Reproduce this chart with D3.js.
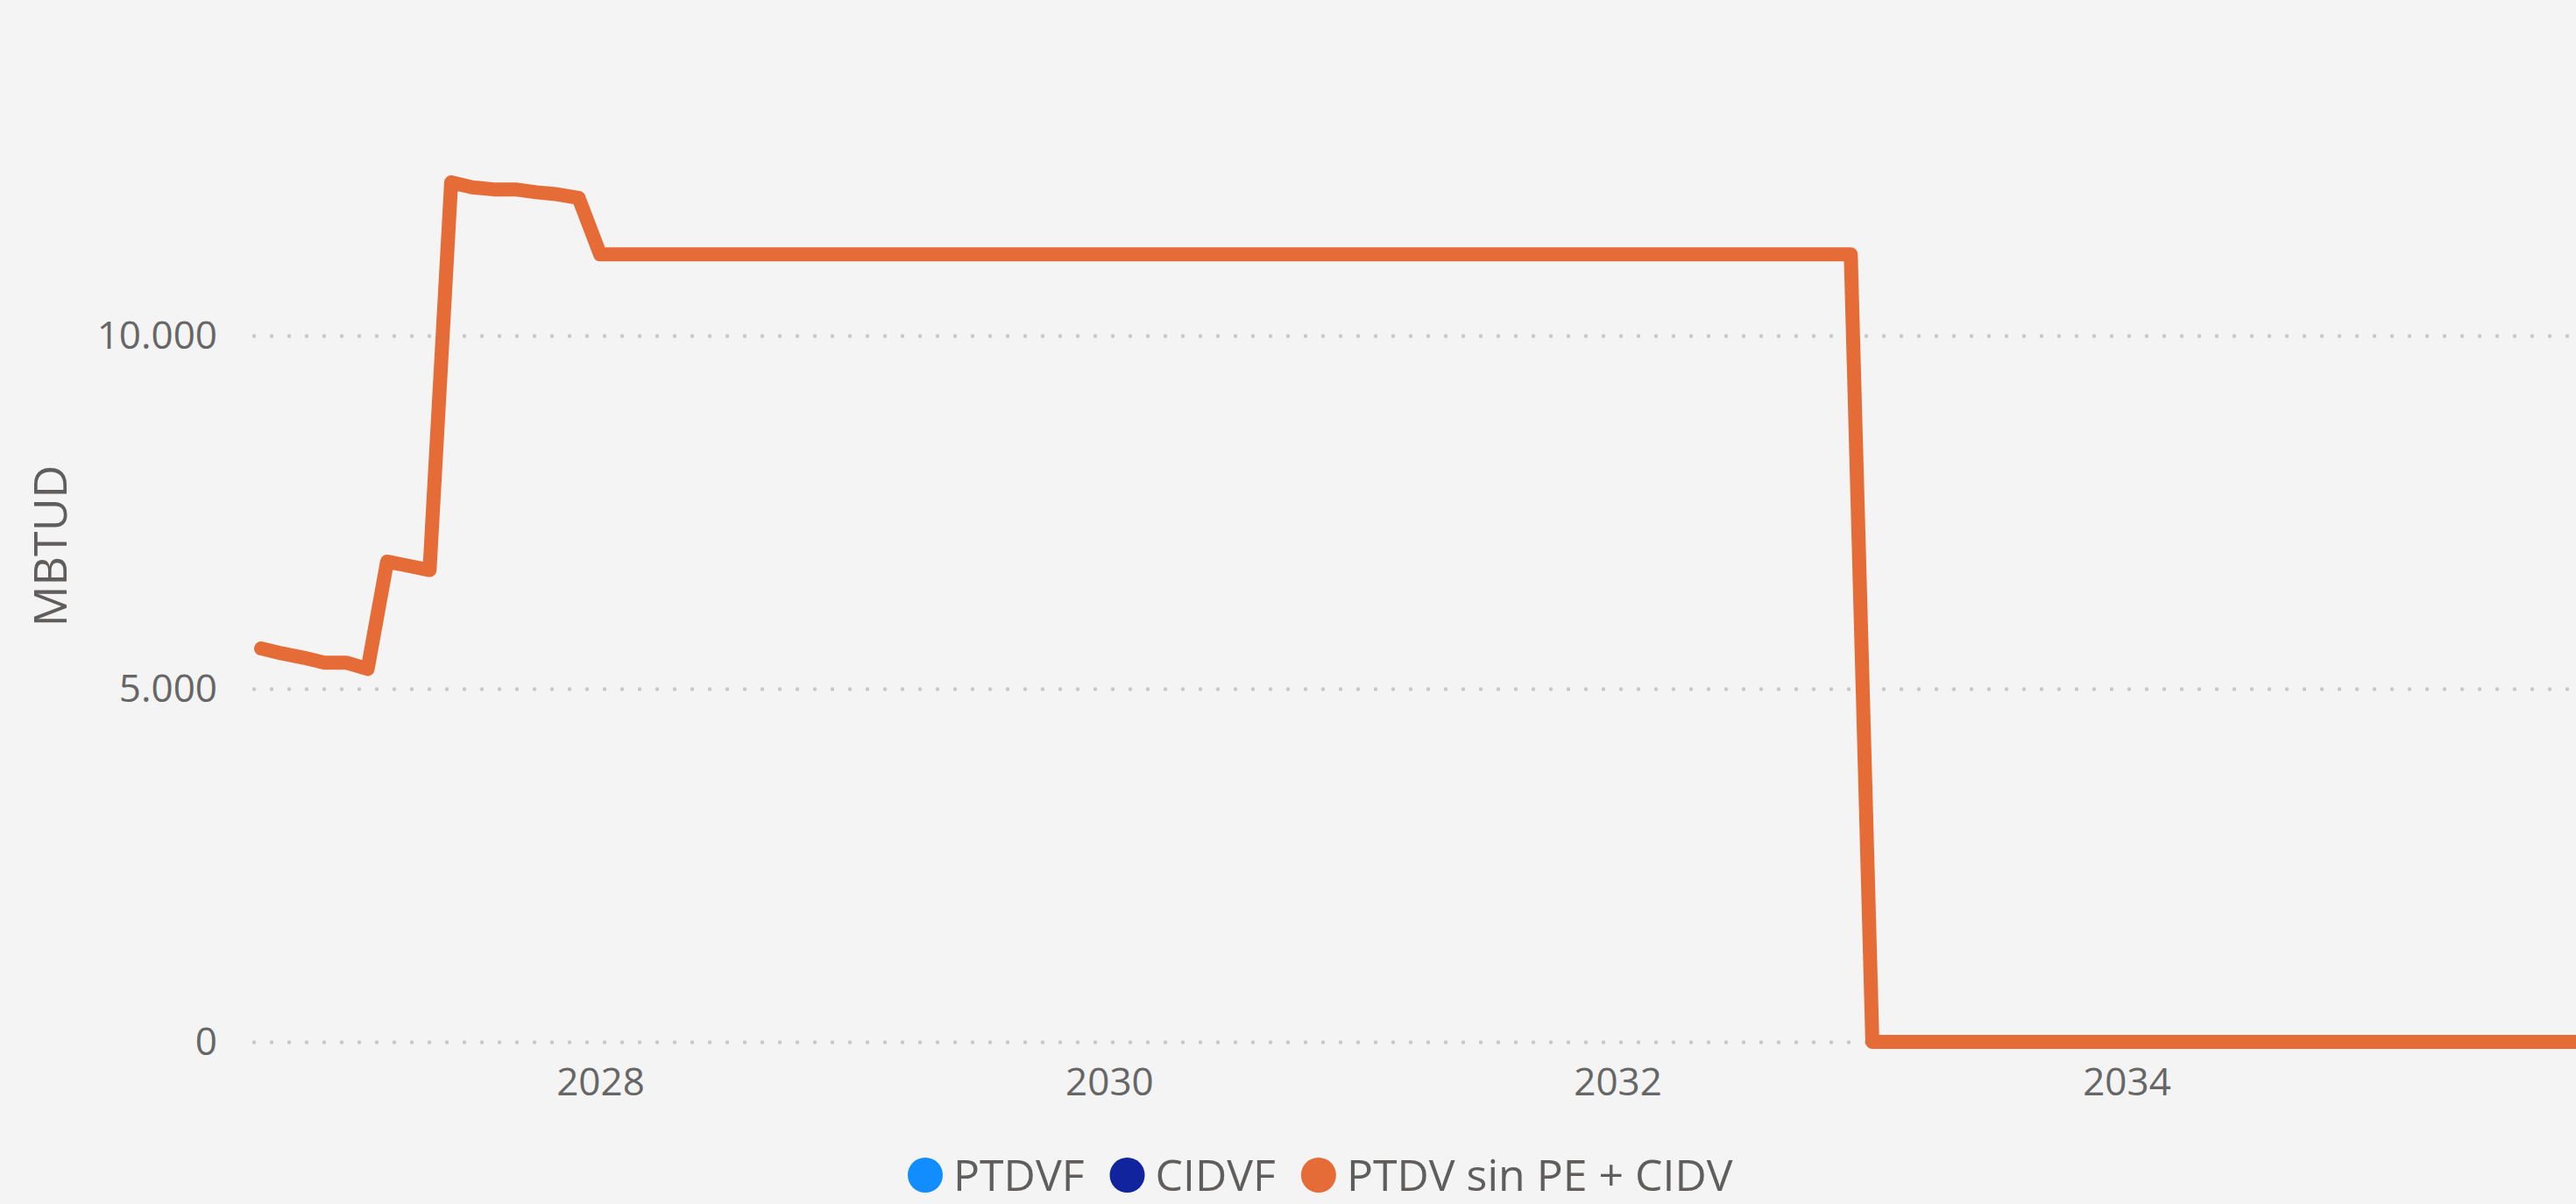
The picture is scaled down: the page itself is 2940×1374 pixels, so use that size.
<!DOCTYPE html>
<html>
<head>
<meta charset="utf-8">
<script src="https://cdn.jsdelivr.net/npm/d3@7"></script>
<style>
  body { margin: 0; background: #f4f4f4; overflow: hidden; }
  #chart svg { display: block; font-family: "Segoe UI", "Open Sans", sans-serif; }
</style>
</head>
<body>
<div id="chart"></div>
<script>
// monthly values, first month is Sep 2026
const firstMonth = new Date(2026, 8, 1)
const ptdvValues = [
  5570, 5500, 5440, 5370,
  5370, 5280, 6800, 6740, 6680, 12170, 12100, 12070, 12070, 12030, 12000, 11950,
  11150, 11150, 11150, 11150, 11150, 11150, 11150, 11150, 11150, 11150, 11150, 11150,
  11150, 11150, 11150, 11150, 11150, 11150, 11150, 11150, 11150, 11150, 11150, 11150,
  11150, 11150, 11150, 11150, 11150, 11150, 11150, 11150, 11150, 11150, 11150, 11150,
  11150, 11150, 11150, 11150, 11150, 11150, 11150, 11150, 11150, 11150, 11150, 11150,
  11150, 11150, 11150, 11150, 11150, 11150, 11150, 11150, 11150, 11150, 11150, 11150,
  0, 0, 0, 0, 0, 0, 0, 0, 0, 0, 0, 0,
  0, 0, 0, 0, 0, 0, 0, 0, 0, 0, 0, 0,
  0, 0, 0, 0, 0, 0, 0, 0, 0, 0, 0, 0
]
const yTicks = [0, 5000, 10000]
const xTickYears = [2028, 2030, 2032, 2034]
const legendNames = ["PTDVF", "CIDVF", "PTDV sin PE + CIDV"]
const legendColors = ["#118DFF", "#12239E", "#E66C37"]

const width = 2940
const height = 1374
const textColor = "#605E5C"

const data = ptdvValues.map(function (v, i) {
  return { date: d3.timeMonth.offset(firstMonth, i), value: v }
})

const svg = d3
  .select("#chart")
  .append("svg")
  .attr("width", width)
  .attr("height", height)

// x: Jan 2028 -> 685, Jan 2034 -> 2427, extrapolates past the right edge
const x = d3
  .scaleTime()
  .domain([new Date(2028, 0, 1), new Date(2034, 0, 1)])
  .range([685, 2427])

const y = d3.scaleLinear().domain([0, 14000]).range([1189, 60.6])

const locale = d3.formatLocale({ decimal: ",", thousands: ".", grouping: [3], currency: ["", ""] })
const fmt = locale.format(",.0f")

// y axis + dotted grid
const yAxis = svg
  .append("g")
  .attr("transform", "translate(290,0)")
  .call(
    d3.axisLeft(y)
      .tickValues(yTicks)
      .tickFormat(fmt)
      .tickSize(-(width - 290 + 20))
      .tickPadding(42)
  )
yAxis.select(".domain").remove()
yAxis
  .selectAll(".tick line")
  .attr("stroke", "#c8c8c8")
  .attr("stroke-width", 4.5)
  .attr("stroke-linecap", "round")
  .attr("stroke-dasharray", "0 20")
yAxis
  .selectAll(".tick text")
  .attr("fill", "#666666")
  .style("font-size", "44px")
  .style("font-family", "'Segoe UI', 'Open Sans', sans-serif")

// x axis
const xAxis = svg
  .append("g")
  .attr("transform", "translate(0,1189)")
  .call(
    d3.axisBottom(x)
      .tickValues(xTickYears.map(function (yr) { return new Date(yr, 0, 1) }))
      .tickFormat(d3.timeFormat("%Y"))
      .tickSize(0)
      .tickPadding(30)
  )
xAxis.select(".domain").remove()
xAxis
  .selectAll(".tick text")
  .attr("fill", "#666666")
  .style("font-size", "44px")
  .style("font-family", "'Segoe UI', 'Open Sans', sans-serif")

// y axis title
svg
  .append("text")
  .attr("transform", "translate(76,623) rotate(-90)")
  .attr("text-anchor", "middle")
  .attr("fill", textColor)
  .style("font-size", "52px")
  .text("MBTUD")

// the line
const line = d3
  .line()
  .x(function (d) { return x(d.date) })
  .y(function (d) { return y(d.value) })

svg
  .append("path")
  .datum(data)
  .attr("fill", "none")
  .attr("stroke", legendColors[2])
  .attr("stroke-width", 16)
  .attr("stroke-linejoin", "round")
  .attr("stroke-linecap", "round")
  .attr("d", line)

// legend (kept just inside the bottom edge)
const legend = svg.append("g").attr("transform", "translate(0,1341)")
let cursor = 1036
legendNames.forEach(function (name, i) {
  legend
    .append("circle")
    .attr("cx", cursor + 20)
    .attr("cy", 0)
    .attr("r", 20)
    .attr("fill", legendColors[i])
  const t = legend
    .append("text")
    .attr("x", cursor + 52)
    .attr("y", 18)
    .attr("fill", textColor)
    .style("font-size", "50px")
    .text(name)
  cursor = cursor + 52 + t.node().getComputedTextLength() + 29
})
</script>
</body>
</html>
